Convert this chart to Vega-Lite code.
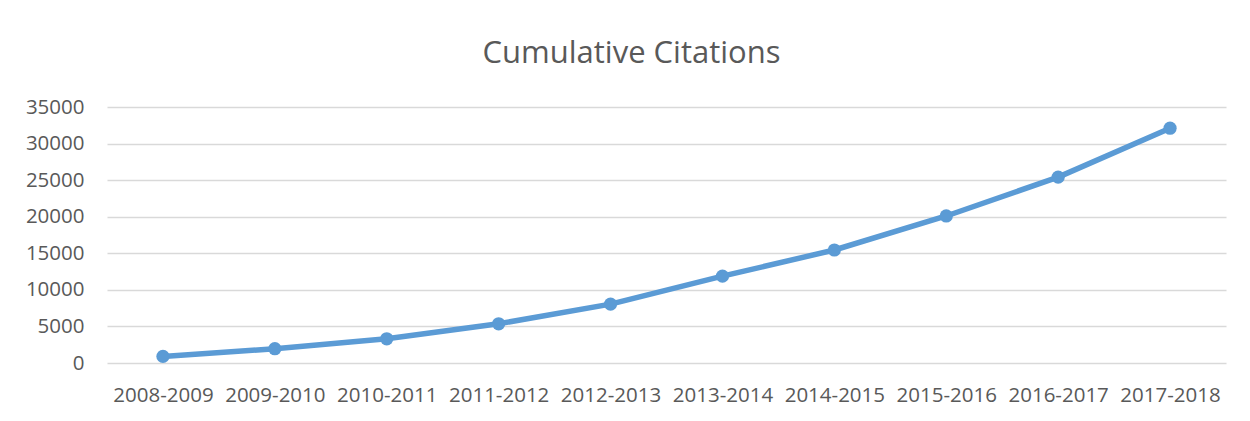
{
  "$schema": "https://vega.github.io/schema/vega-lite/v6.json",
  "autosize": {"type": "none"},
  "padding": {"left": 107, "top": 107, "right": 24, "bottom": 58},
  "width": 1119,
  "height": 256,
  "background": "white",
  "title": {
    "text": "Cumulative Citations",
    "font": "Open Sans",
    "fontSize": 31,
    "fontWeight": "normal",
    "color": "#595959",
    "anchor": "middle",
    "baseline": "alphabetic",
    "offset": 3,
    "dx": -35
  },
  "config": {
    "view": {"stroke": null},
    "font": "Open Sans"
  },
  "data": {
    "values": [
      {"period": "2008-2009", "citations": 900},
      {"period": "2009-2010", "citations": 1950},
      {"period": "2010-2011", "citations": 3310},
      {"period": "2011-2012", "citations": 5360},
      {"period": "2012-2013", "citations": 8050},
      {"period": "2013-2014", "citations": 11870},
      {"period": "2014-2015", "citations": 15450},
      {"period": "2015-2016", "citations": 20100},
      {"period": "2016-2017", "citations": 25410},
      {"period": "2017-2018", "citations": 32100}
    ]
  },
  "encoding": {
    "x": {
      "field": "period",
      "type": "ordinal",
      "sort": null,
      "scale": {"type": "point", "padding": 0.5},
      "axis": {
        "title": null,
        "labelAngle": 0,
        "labelFont": "Open Sans",
        "labelFontSize": 20.5,
        "labelColor": "#595959",
        "ticks": false,
        "tickSize": 0,
        "domain": false,
        "grid": false,
        "labelPadding": 22
      }
    },
    "y": {
      "field": "citations",
      "type": "quantitative",
      "scale": {"domain": [0, 35000], "nice": false},
      "axis": {
        "title": null,
        "values": [0, 5000, 10000, 15000, 20000, 25000, 30000, 35000],
        "format": "d",
        "labelFont": "Open Sans",
        "labelFontSize": 20.5,
        "labelColor": "#595959",
        "ticks": false,
        "tickSize": 0,
        "domain": false,
        "labelPadding": 23,
        "gridColor": "#d9d9d9",
        "gridWidth": 1.5,
        "gridOpacity": 1
      }
    }
  },
  "layer": [
    {"mark": {"type": "line", "color": "#5b9bd5", "strokeWidth": 5.5, "strokeCap": "round", "strokeJoin": "round"}},
    {"mark": {"type": "point", "filled": true, "color": "#5b9bd5", "size": 175, "opacity": 1}}
  ]
}
